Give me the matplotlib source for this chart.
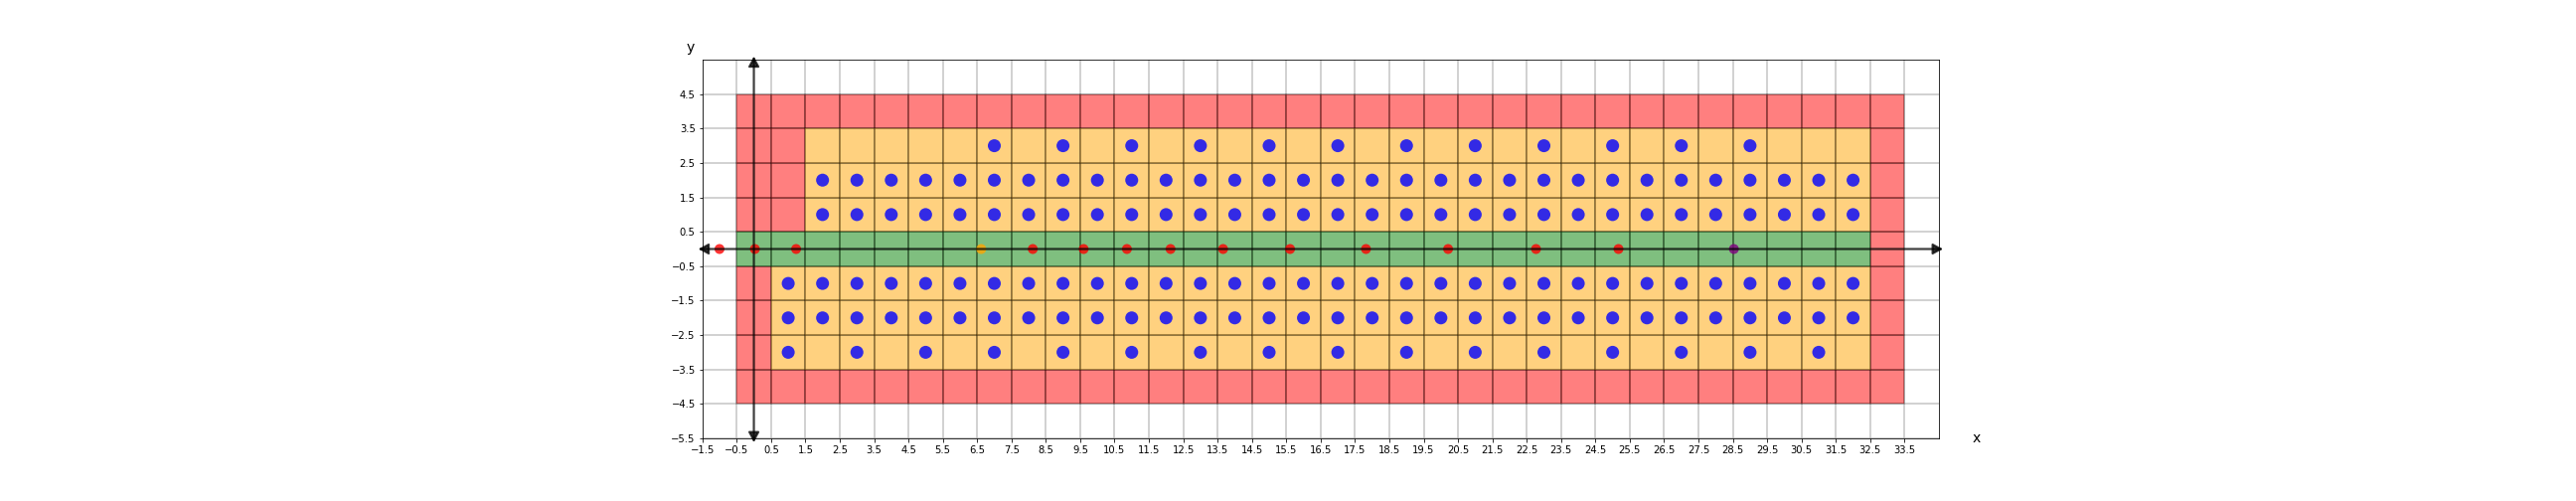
import matplotlib
matplotlib.use("Agg")
import matplotlib.pyplot as plt
from matplotlib.patches import Rectangle, FancyArrowPatch
from matplotlib.colors import to_rgba

# ---------------- data ----------------
x_limits = (-1.5, 34.5)
y_limits = (-5.5, 5.5)
x_tick_values = [-1.5 + i for i in range(36)]
y_tick_values = [-5.5 + i for i in range(11)]

# zones of unit cells, given as (x_first, x_last, y_first, y_last) cell centres
red_zones = [(0, 33, 4, 4), (0, 33, -4, -4), (33, 33, -3, 3),
             (0, 1, 1, 3), (0, 0, -3, -1)]
orange_zones = [(2, 32, 1, 3), (1, 32, -3, -1)]
green_zones = [(0, 32, 0, 0)]

# blue points per row
blue_row_p3 = [7, 9, 11, 13, 15, 17, 19, 21, 23, 25, 27, 29]
blue_row_p2 = [2, 3, 4, 5, 6, 7, 8, 9, 10, 11, 12, 13, 14, 15, 16, 17, 18,
               19, 20, 21, 22, 23, 24, 25, 26, 27, 28, 29, 30, 31, 32]
blue_row_p1 = [2, 3, 4, 5, 6, 7, 8, 9, 10, 11, 12, 13, 14, 15, 16, 17, 18,
               19, 20, 21, 22, 23, 24, 25, 26, 27, 28, 29, 30, 31, 32]
blue_row_m1 = [1, 2, 3, 4, 5, 6, 7, 8, 9, 10, 11, 12, 13, 14, 15, 16, 17, 18,
               19, 20, 21, 22, 23, 24, 25, 26, 27, 28, 29, 30, 31, 32]
blue_row_m2 = [1, 2, 3, 4, 5, 6, 7, 8, 9, 10, 11, 12, 13, 14, 15, 16, 17, 18,
               19, 20, 21, 22, 23, 24, 25, 26, 27, 28, 29, 30, 31, 32]
blue_row_m3 = [1, 3, 5, 7, 9, 11, 13, 15, 17, 19, 21, 23, 25, 27, 29, 31]
blue_rows = {3: blue_row_p3, 2: blue_row_p2, 1: blue_row_p1,
             -1: blue_row_m1, -2: blue_row_m2, -3: blue_row_m3}

# points on the x axis
red_x = [-1.0, 0.03, 1.23, 8.12, 9.6, 10.86, 12.13, 13.66, 15.61, 17.82,
         20.21, 22.77, 25.17]
orange_x = [6.62]
purple_x = [28.53]

# ---------------- figure ----------------
fig = plt.figure(figsize=(36, 7), dpi=72)
ax = fig.add_axes([706.7 / 2592, 63 / 504, 1244.3 / 2592, 381 / 504])
ax.set_xlim(*x_limits)
ax.set_ylim(*y_limits)
ax.set_xticks(x_tick_values)
ax.set_yticks(y_tick_values)
ax.tick_params(labelsize=10)
ax.set_axisbelow(True)
ax.grid(True, color="#b0b0b0", alpha=0.7, linewidth=1.6)


def draw_zone(zones, color):
    for (x0, x1, y0, y1) in zones:
        for cx in range(x0, x1 + 1):
            for cy in range(y0, y1 + 1):
                ax.add_patch(Rectangle((cx - 0.5, cy - 0.5), 1, 1,
                                       facecolor=to_rgba(color, 0.5),
                                       edgecolor=(0, 0, 0, 0.28),
                                       linewidth=1.5, zorder=1))


draw_zone(red_zones, "red")
draw_zone(orange_zones, "orange")
draw_zone(green_zones, "green")

for yv, xs in blue_rows.items():
    ax.scatter(xs, [yv] * len(xs), s=170, color="blue", alpha=0.8,
               edgecolors="none", zorder=3)

ax.scatter(red_x, [0] * len(red_x), s=100, color="red", alpha=0.8,
           edgecolors="none", zorder=3)
ax.scatter(orange_x, [0] * len(orange_x), s=100, color="orange", alpha=0.8,
           edgecolors="none", zorder=3)
ax.scatter(purple_x, [0] * len(purple_x), s=100, color="purple", alpha=0.8,
           edgecolors="none", zorder=3)

# axis arrows
style = "<|-|>,head_length=0.55,head_width=0.3"
h_arrow = FancyArrowPatch((x_limits[0] - 0.12, 0), (x_limits[1] + 0.12, 0),
                          arrowstyle=style, mutation_scale=15, lw=2.2,
                          color="black", alpha=0.75, shrinkA=0, shrinkB=0,
                          clip_on=False, zorder=4)
v_arrow = FancyArrowPatch((0, y_limits[0] - 0.12), (0, y_limits[1] + 0.1),
                          arrowstyle=style, mutation_scale=15, lw=2.2,
                          color="black", alpha=0.75, shrinkA=0, shrinkB=0,
                          clip_on=False, zorder=4)
ax.add_patch(h_arrow)
ax.add_patch(v_arrow)

ax.text(1.0305, -0.0105, "x", transform=ax.transAxes, fontsize=14,
        ha="center", va="baseline")
ax.text(-0.0094, 1.022, "y", transform=ax.transAxes, fontsize=14,
        ha="center", va="baseline")

fig.savefig("out.png", dpi=72)
